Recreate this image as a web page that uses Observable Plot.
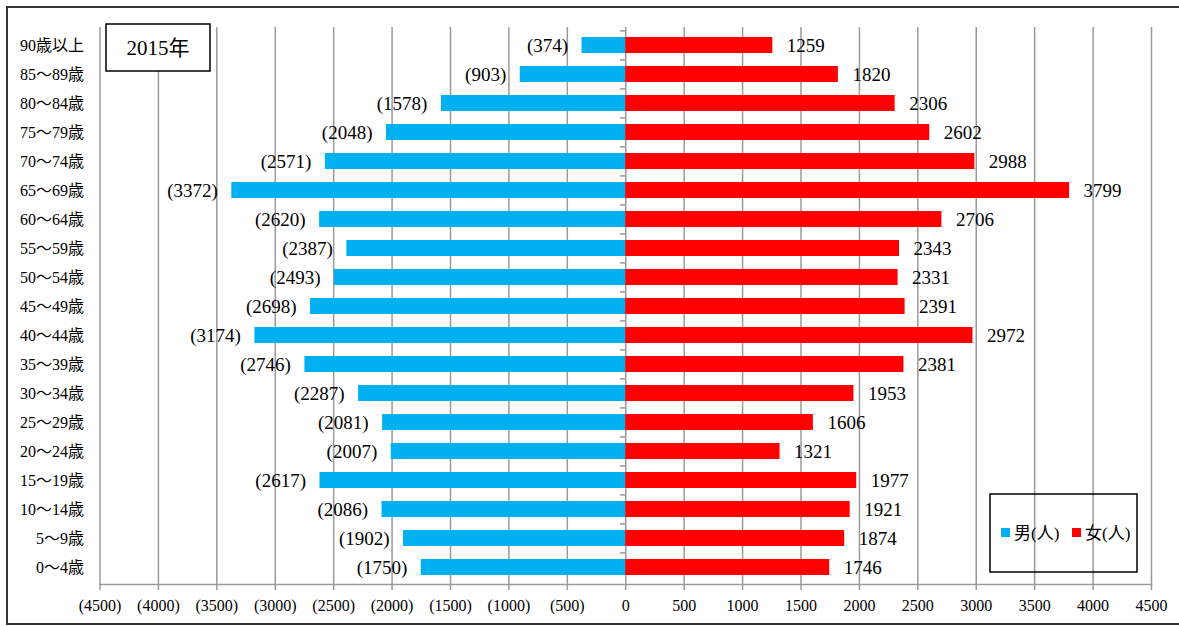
<!DOCTYPE html>
<html>
<head>
<meta charset="utf-8">
<script src="https://cdn.jsdelivr.net/npm/d3@7"></script>
<script src="https://cdn.jsdelivr.net/npm/@observablehq/plot@0.6"></script>
<style>
  html, body { margin: 0; padding: 0; background: #fff; }
  svg { display: block; }
</style>
</head>
<body>
<div id="chart"></div>
<script>
const ages = ["90歳以上","85～89歳","80～84歳","75～79歳","70～74歳","65～69歳","60～64歳","55～59歳","50～54歳","45～49歳","40～44歳","35～39歳","30～34歳","25～29歳","20～24歳","15～19歳","10～14歳","5～9歳","0～4歳"];
const male =   [374, 903, 1578, 2048, 2571, 3372, 2620, 2387, 2493, 2698, 3174, 2746, 2287, 2081, 2007, 2617, 2086, 1902, 1750];
const female = [1259, 1820, 2306, 2602, 2988, 3799, 2706, 2343, 2331, 2391, 2972, 2381, 1953, 1606, 1321, 1977, 1921, 1874, 1746];
const xTicks = [-4500,-4000,-3500,-3000,-2500,-2000,-1500,-1000,-500,0,500,1000,1500,2000,2500,3000,3500,4000,4500];
const title = "2015年";
const seriesNames = ["男(人)", "女(人)"];
const seriesColors = ["#00B0F0", "#FF0000"];

const data = ages.map((a, i) => ({age: a, male: male[i], female: female[i]}));
const font = '"Liberation Serif", "Noto Sans CJK JP", serif';
const gridColor = "#9a9a9a";

const plot = Plot.plot({
  width: 1179,
  height: 626,
  marginLeft: 99.5,
  marginRight: 28,
  marginTop: 27,
  marginBottom: 42,
  style: {fontFamily: font, background: "#fff", color: "#000"},
  x: {domain: [-4500, 4500]},
  y: {domain: ages, paddingInner: 0.45, paddingOuter: 0.225},
  marks: [
    Plot.ruleX(xTicks, {stroke: gridColor, strokeWidth: 1.5}),
    Plot.ruleY(ages, {y: d => d, x1: -45, x2: 0, dy: -14.6, stroke: gridColor, strokeWidth: 1.5}),
    Plot.frame({anchor: "bottom", stroke: gridColor, strokeWidth: 1.5}),
    Plot.barX(data, {y: "age", x1: 0, x2: d => -d.male, fill: seriesColors[0]}),
    Plot.barX(data, {y: "age", x1: 0, x2: d => d.female, fill: seriesColors[1]}),
    Plot.text(data, {y: "age", x: d => -d.male, text: d => `(${d.male})`, textAnchor: "end", dx: -14, fontSize: 19, fill: "#000"}),
    Plot.text(data, {y: "age", x: d => d.female, text: d => `${d.female}`, textAnchor: "start", dx: 14, fontSize: 19, fill: "#000"}),
    Plot.axisX({ticks: xTicks, tickFormat: d => d < 0 ? `(${-d})` : `${d}`, tickSize: 6, tickPadding: 9, fontSize: 16, stroke: gridColor, strokeWidth: 1.5, fill: "#000", label: null}),
    Plot.axisY({tickSize: 0, tickPadding: 16, fontSize: 16, fill: "#000", label: null})
  ]
});

document.getElementById("chart").appendChild(plot);

// decorations: outer frame, title box, legend box
const svg = d3.select(plot);
svg.append("rect")
  .attr("x", 7).attr("y", 7).attr("width", 1200).attr("height", 617)
  .attr("fill", "none").attr("stroke", "#333").attr("stroke-width", 2);

const tg = svg.append("g");
tg.append("rect").attr("x", 106).attr("y", 24).attr("width", 104).attr("height", 47)
  .attr("fill", "#fff").attr("stroke", "#000").attr("stroke-width", 1.5);
tg.append("text").attr("x", 158).attr("y", 48).attr("text-anchor", "middle")
  .attr("dominant-baseline", "central").attr("font-size", 21).attr("font-family", font)
  .text(title);

const lg = svg.append("g");
lg.append("rect").attr("x", 990).attr("y", 494).attr("width", 147).attr("height", 78)
  .attr("fill", "none").attr("stroke", "#000").attr("stroke-width", 1.5);
const items = [{x: 1001}, {x: 1072}];
items.forEach((it, i) => {
  lg.append("rect").attr("x", it.x).attr("y", 528).attr("width", 9).attr("height", 9).attr("fill", seriesColors[i]);
  lg.append("text").attr("x", it.x + 13).attr("y", 533).attr("dominant-baseline", "central")
    .attr("text-anchor", "start")
    .attr("font-size", 17).attr("font-family", font).text(seriesNames[i]);
});
</script>
</body>
</html>
